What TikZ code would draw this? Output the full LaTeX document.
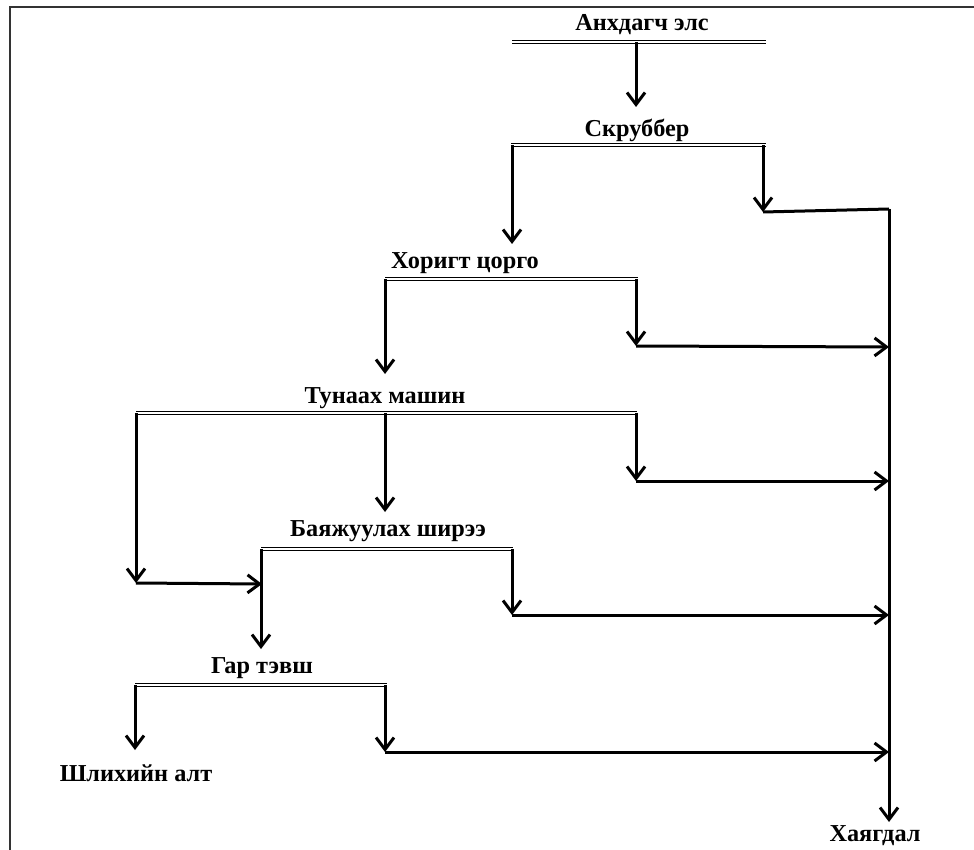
\documentclass[tikz,border=0pt]{standalone}
\usepackage{fontspec}
\setmainfont{Liberation Serif}
\usetikzlibrary{arrows.meta}
\begin{document}
\begin{tikzpicture}[x=1pt,y=-1pt,
  lbl/.style={font=\fontsize{24.3}{26}\selectfont\bfseries, inner sep=0pt},
  bar/.style={draw=black, double=white, line width=1.3pt, double distance=1.3pt},
  flow/.style={line width=3pt, -{Straight Barb[length=12pt,width=18pt,line width=3pt]}},
  seg/.style={line width=3pt},
  frame/.style={line width=2.5pt, draw=black!80}]
\useasboundingbox (0,0) rectangle (974,850);
% frame (top and left edges)
\coordinate (f1) at (10,1000);
\coordinate (f2) at (10,7);
\coordinate (f3) at (1100,7);
\draw[frame] (f1) -- (f2) -- (f3);

% labels
\node[lbl] (A) at (642,25) {Анхдагч элс};
\node[lbl] (S) at (637,130) {Скруббер};
\node[lbl] (H) at (465,263) {Хоригт цорго};
\node[lbl] (T) at (385,398) {Тунаах машин};
\node[lbl] (B) at (388,531) {Баяжуулах ширээ};
\node[lbl] (G) at (262,668) {Гар тэвш};
\node[lbl] (Sh) at (136,773) {Шлихийн алт};
\node[lbl] (X) at (875,836) {Хаягдал};

% bars
\coordinate (a1) at (512,42);  \coordinate (a2) at (766,42);
\coordinate (s1) at (511,145); \coordinate (s2) at (766,145);
\coordinate (h1) at (385,279); \coordinate (h2) at (638,279);
\coordinate (t1) at (136,413); \coordinate (t2) at (637,413);
\coordinate (b1) at (261,549); \coordinate (b2) at (513,549);
\coordinate (g1) at (135,685); \coordinate (g2) at (387,685);
\foreach \p/\q in {a1/a2,s1/s2,h1/h2,t1/t2,b1/b2,g1/g2}
  \draw[bar] (\p) -- (\q);

% waste trunk
\coordinate (w0) at (889,209);
\coordinate (w6) at (889,822);
\draw[flow] (w0) -- (w6);

% Анхдагч элс -> Скруббер
\coordinate (am) at (636,42); \coordinate (ae) at (636,107);
\draw[flow] (am) -- (ae);

% Скруббер
\coordinate (sl) at (512,145); \coordinate (sle) at (512,244);
\draw[flow] (sl) -- (sle);
\coordinate (sr) at (763,145); \coordinate (sre) at (763,212);
\draw[flow] (sr) -- (sre);
\draw[seg] (sre) -- (w0);

% Хоригт цорго
\coordinate (hl) at (385,279); \coordinate (hle) at (385,374);
\draw[flow] (hl) -- (hle);
\coordinate (hr) at (636,279); \coordinate (hre) at (636,346);
\draw[flow] (hr) -- (hre);
\coordinate (w1) at (889,347);
\draw[flow] (hre) -- (w1);

% Тунаах машин
\coordinate (tl) at (136,413); \coordinate (tle) at (136,583);
\draw[flow] (tl) -- (tle);
\coordinate (tj) at (262,584);
\draw[flow] (tle) -- (tj);
\coordinate (tm) at (385,413); \coordinate (tme) at (385,512);
\draw[flow] (tm) -- (tme);
\coordinate (tr) at (636,413); \coordinate (tre) at (636,481);
\draw[flow] (tr) -- (tre);
\coordinate (w2) at (889,481);
\draw[flow] (tre) -- (w2);

% Баяжуулах ширээ
\coordinate (bl) at (261,549); \coordinate (ble) at (261,649);
\draw[flow] (bl) -- (ble);
\coordinate (br) at (512,549); \coordinate (bre) at (512,615);
\draw[flow] (br) -- (bre);
\coordinate (w3) at (889,615);
\draw[flow] (bre) -- (w3);

% Гар тэвш
\coordinate (gl) at (135,685); \coordinate (gle) at (135,750);
\draw[flow] (gl) -- (gle);
\coordinate (gr) at (385,685); \coordinate (gre) at (385,752);
\draw[flow] (gr) -- (gre);
\coordinate (w4) at (889,752);
\draw[flow] (gre) -- (w4);
\end{tikzpicture}
\end{document}
